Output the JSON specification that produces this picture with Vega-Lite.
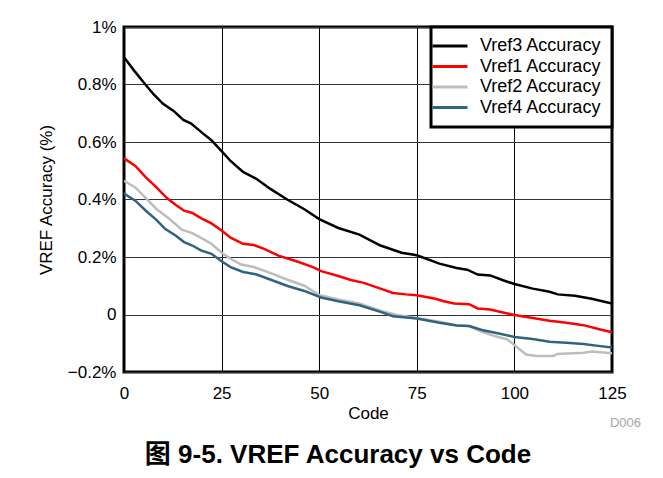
{
  "$schema": "https://vega.github.io/schema/vega-lite/v6.json",
  "width": 488,
  "height": 345,
  "autosize": {"type": "none"},
  "padding": {"left": 124, "top": 27, "right": 51, "bottom": 106},
  "background": "white",
  "config": {
    "font": "Liberation Sans",
    "view": {"stroke": "black", "strokeWidth": 3},
    "legend": {"strokeColor": "black", "strokeWidth": 3, "fillColor": "white"}
  },
  "title": {
    "text": "图 9-5. VREF Accuracy vs Code",
    "orient": "bottom",
    "anchor": "middle",
    "frame": "group",
    "font": "Liberation Sans, Noto Sans CJK SC",
    "fontSize": 26,
    "fontWeight": "bold",
    "color": "black",
    "dx": -30,
    "offset": 12
  },
  "layer": [
    {
      "data": {
        "values": [
          {"s": "Vref3 Accuracy", "code": 0, "acc": 0.895},
          {"s": "Vref3 Accuracy", "code": 2.5, "acc": 0.85},
          {"s": "Vref3 Accuracy", "code": 5.1, "acc": 0.806},
          {"s": "Vref3 Accuracy", "code": 7.5, "acc": 0.767},
          {"s": "Vref3 Accuracy", "code": 10, "acc": 0.733},
          {"s": "Vref3 Accuracy", "code": 12.7, "acc": 0.708},
          {"s": "Vref3 Accuracy", "code": 15.2, "acc": 0.677},
          {"s": "Vref3 Accuracy", "code": 17.2, "acc": 0.664},
          {"s": "Vref3 Accuracy", "code": 20.2, "acc": 0.630},
          {"s": "Vref3 Accuracy", "code": 22.4, "acc": 0.606},
          {"s": "Vref3 Accuracy", "code": 25, "acc": 0.568},
          {"s": "Vref3 Accuracy", "code": 27.3, "acc": 0.534},
          {"s": "Vref3 Accuracy", "code": 30.5, "acc": 0.496},
          {"s": "Vref3 Accuracy", "code": 33.8, "acc": 0.473},
          {"s": "Vref3 Accuracy", "code": 37.6, "acc": 0.436},
          {"s": "Vref3 Accuracy", "code": 41.9, "acc": 0.399},
          {"s": "Vref3 Accuracy", "code": 46.2, "acc": 0.366},
          {"s": "Vref3 Accuracy", "code": 50, "acc": 0.332},
          {"s": "Vref3 Accuracy", "code": 54.9, "acc": 0.301},
          {"s": "Vref3 Accuracy", "code": 60.3, "acc": 0.278},
          {"s": "Vref3 Accuracy", "code": 65.7, "acc": 0.240},
          {"s": "Vref3 Accuracy", "code": 71.1, "acc": 0.215},
          {"s": "Vref3 Accuracy", "code": 75, "acc": 0.206},
          {"s": "Vref3 Accuracy", "code": 80.8, "acc": 0.177},
          {"s": "Vref3 Accuracy", "code": 85.2, "acc": 0.162},
          {"s": "Vref3 Accuracy", "code": 87.9, "acc": 0.156},
          {"s": "Vref3 Accuracy", "code": 90.6, "acc": 0.139},
          {"s": "Vref3 Accuracy", "code": 93.8, "acc": 0.136},
          {"s": "Vref3 Accuracy", "code": 97.1, "acc": 0.119},
          {"s": "Vref3 Accuracy", "code": 100, "acc": 0.106},
          {"s": "Vref3 Accuracy", "code": 104.7, "acc": 0.090},
          {"s": "Vref3 Accuracy", "code": 109, "acc": 0.079},
          {"s": "Vref3 Accuracy", "code": 111.1, "acc": 0.070},
          {"s": "Vref3 Accuracy", "code": 115.5, "acc": 0.065},
          {"s": "Vref3 Accuracy", "code": 119.8, "acc": 0.055},
          {"s": "Vref3 Accuracy", "code": 125, "acc": 0.038},

          {"s": "Vref1 Accuracy", "code": 0, "acc": 0.543},
          {"s": "Vref1 Accuracy", "code": 2.9, "acc": 0.517},
          {"s": "Vref1 Accuracy", "code": 5.6, "acc": 0.477},
          {"s": "Vref1 Accuracy", "code": 8.3, "acc": 0.442},
          {"s": "Vref1 Accuracy", "code": 11, "acc": 0.405},
          {"s": "Vref1 Accuracy", "code": 13.2, "acc": 0.382},
          {"s": "Vref1 Accuracy", "code": 15.4, "acc": 0.361},
          {"s": "Vref1 Accuracy", "code": 17.5, "acc": 0.353},
          {"s": "Vref1 Accuracy", "code": 19.7, "acc": 0.335},
          {"s": "Vref1 Accuracy", "code": 22.4, "acc": 0.317},
          {"s": "Vref1 Accuracy", "code": 25, "acc": 0.292},
          {"s": "Vref1 Accuracy", "code": 27.3, "acc": 0.267},
          {"s": "Vref1 Accuracy", "code": 30.5, "acc": 0.246},
          {"s": "Vref1 Accuracy", "code": 33.2, "acc": 0.242},
          {"s": "Vref1 Accuracy", "code": 35.9, "acc": 0.228},
          {"s": "Vref1 Accuracy", "code": 39.7, "acc": 0.204},
          {"s": "Vref1 Accuracy", "code": 44, "acc": 0.186},
          {"s": "Vref1 Accuracy", "code": 48.4, "acc": 0.165},
          {"s": "Vref1 Accuracy", "code": 50.5, "acc": 0.151},
          {"s": "Vref1 Accuracy", "code": 54.9, "acc": 0.134},
          {"s": "Vref1 Accuracy", "code": 58.1, "acc": 0.120},
          {"s": "Vref1 Accuracy", "code": 61.4, "acc": 0.110},
          {"s": "Vref1 Accuracy", "code": 65.7, "acc": 0.090},
          {"s": "Vref1 Accuracy", "code": 68.9, "acc": 0.075},
          {"s": "Vref1 Accuracy", "code": 72.2, "acc": 0.070},
          {"s": "Vref1 Accuracy", "code": 75, "acc": 0.067},
          {"s": "Vref1 Accuracy", "code": 79.8, "acc": 0.055},
          {"s": "Vref1 Accuracy", "code": 81.9, "acc": 0.046},
          {"s": "Vref1 Accuracy", "code": 84.6, "acc": 0.038},
          {"s": "Vref1 Accuracy", "code": 88.4, "acc": 0.036},
          {"s": "Vref1 Accuracy", "code": 90.6, "acc": 0.021},
          {"s": "Vref1 Accuracy", "code": 93.8, "acc": 0.017},
          {"s": "Vref1 Accuracy", "code": 97.1, "acc": 0.007},
          {"s": "Vref1 Accuracy", "code": 100, "acc": -0.002},
          {"s": "Vref1 Accuracy", "code": 104.7, "acc": -0.012},
          {"s": "Vref1 Accuracy", "code": 109, "acc": -0.022},
          {"s": "Vref1 Accuracy", "code": 113.3, "acc": -0.029},
          {"s": "Vref1 Accuracy", "code": 117.7, "acc": -0.037},
          {"s": "Vref1 Accuracy", "code": 122, "acc": -0.052},
          {"s": "Vref1 Accuracy", "code": 125, "acc": -0.062},

          {"s": "Vref2 Accuracy", "code": 0, "acc": 0.465},
          {"s": "Vref2 Accuracy", "code": 2.9, "acc": 0.442},
          {"s": "Vref2 Accuracy", "code": 5.6, "acc": 0.405},
          {"s": "Vref2 Accuracy", "code": 8.3, "acc": 0.367},
          {"s": "Vref2 Accuracy", "code": 11.6, "acc": 0.333},
          {"s": "Vref2 Accuracy", "code": 14.8, "acc": 0.295},
          {"s": "Vref2 Accuracy", "code": 17.5, "acc": 0.283},
          {"s": "Vref2 Accuracy", "code": 20.2, "acc": 0.263},
          {"s": "Vref2 Accuracy", "code": 22.4, "acc": 0.246},
          {"s": "Vref2 Accuracy", "code": 25, "acc": 0.215},
          {"s": "Vref2 Accuracy", "code": 27.3, "acc": 0.194},
          {"s": "Vref2 Accuracy", "code": 30, "acc": 0.174},
          {"s": "Vref2 Accuracy", "code": 33.2, "acc": 0.165},
          {"s": "Vref2 Accuracy", "code": 37.6, "acc": 0.144},
          {"s": "Vref2 Accuracy", "code": 41.9, "acc": 0.121},
          {"s": "Vref2 Accuracy", "code": 46.2, "acc": 0.100},
          {"s": "Vref2 Accuracy", "code": 50, "acc": 0.068},
          {"s": "Vref2 Accuracy", "code": 54.9, "acc": 0.052},
          {"s": "Vref2 Accuracy", "code": 60.3, "acc": 0.038},
          {"s": "Vref2 Accuracy", "code": 65.7, "acc": 0.013},
          {"s": "Vref2 Accuracy", "code": 70, "acc": -0.002},
          {"s": "Vref2 Accuracy", "code": 75, "acc": -0.012},
          {"s": "Vref2 Accuracy", "code": 80.8, "acc": -0.025},
          {"s": "Vref2 Accuracy", "code": 85.2, "acc": -0.037},
          {"s": "Vref2 Accuracy", "code": 88.4, "acc": -0.040},
          {"s": "Vref2 Accuracy", "code": 91.7, "acc": -0.060},
          {"s": "Vref2 Accuracy", "code": 94.9, "acc": -0.075},
          {"s": "Vref2 Accuracy", "code": 98.2, "acc": -0.087},
          {"s": "Vref2 Accuracy", "code": 100, "acc": -0.106},
          {"s": "Vref2 Accuracy", "code": 103, "acc": -0.139},
          {"s": "Vref2 Accuracy", "code": 105.7, "acc": -0.144},
          {"s": "Vref2 Accuracy", "code": 110, "acc": -0.144},
          {"s": "Vref2 Accuracy", "code": 111, "acc": -0.137},
          {"s": "Vref2 Accuracy", "code": 117.7, "acc": -0.133},
          {"s": "Vref2 Accuracy", "code": 119.8, "acc": -0.129},
          {"s": "Vref2 Accuracy", "code": 125, "acc": -0.135},

          {"s": "Vref4 Accuracy", "code": 0, "acc": 0.421},
          {"s": "Vref4 Accuracy", "code": 2.9, "acc": 0.396},
          {"s": "Vref4 Accuracy", "code": 5.6, "acc": 0.361},
          {"s": "Vref4 Accuracy", "code": 8.3, "acc": 0.329},
          {"s": "Vref4 Accuracy", "code": 10.5, "acc": 0.298},
          {"s": "Vref4 Accuracy", "code": 13.2, "acc": 0.275},
          {"s": "Vref4 Accuracy", "code": 15.4, "acc": 0.252},
          {"s": "Vref4 Accuracy", "code": 17.5, "acc": 0.240},
          {"s": "Vref4 Accuracy", "code": 19.7, "acc": 0.223},
          {"s": "Vref4 Accuracy", "code": 22.4, "acc": 0.211},
          {"s": "Vref4 Accuracy", "code": 25, "acc": 0.185},
          {"s": "Vref4 Accuracy", "code": 27.3, "acc": 0.165},
          {"s": "Vref4 Accuracy", "code": 30.5, "acc": 0.148},
          {"s": "Vref4 Accuracy", "code": 33.8, "acc": 0.140},
          {"s": "Vref4 Accuracy", "code": 37.6, "acc": 0.121},
          {"s": "Vref4 Accuracy", "code": 41.9, "acc": 0.099},
          {"s": "Vref4 Accuracy", "code": 46.2, "acc": 0.082},
          {"s": "Vref4 Accuracy", "code": 50.5, "acc": 0.059},
          {"s": "Vref4 Accuracy", "code": 54.9, "acc": 0.046},
          {"s": "Vref4 Accuracy", "code": 60.3, "acc": 0.032},
          {"s": "Vref4 Accuracy", "code": 65.7, "acc": 0.009},
          {"s": "Vref4 Accuracy", "code": 68.9, "acc": -0.006},
          {"s": "Vref4 Accuracy", "code": 75, "acc": -0.014},
          {"s": "Vref4 Accuracy", "code": 80.8, "acc": -0.029},
          {"s": "Vref4 Accuracy", "code": 85.2, "acc": -0.038},
          {"s": "Vref4 Accuracy", "code": 88.4, "acc": -0.040},
          {"s": "Vref4 Accuracy", "code": 91.7, "acc": -0.054},
          {"s": "Vref4 Accuracy", "code": 96, "acc": -0.066},
          {"s": "Vref4 Accuracy", "code": 100, "acc": -0.078},
          {"s": "Vref4 Accuracy", "code": 104.7, "acc": -0.085},
          {"s": "Vref4 Accuracy", "code": 109, "acc": -0.095},
          {"s": "Vref4 Accuracy", "code": 113.3, "acc": -0.098},
          {"s": "Vref4 Accuracy", "code": 117.7, "acc": -0.103},
          {"s": "Vref4 Accuracy", "code": 122, "acc": -0.110},
          {"s": "Vref4 Accuracy", "code": 125, "acc": -0.115}
        ]
      },
      "mark": {"type": "line", "strokeWidth": 2.5, "clip": true},
      "encoding": {
        "x": {
          "field": "code",
          "type": "quantitative",
          "scale": {"domain": [0, 125], "nice": false, "zero": false},
          "axis": {
            "values": [0, 25, 50, 75, 100, 125],
            "title": "Code",
            "labelFontSize": 17,
            "labelColor": "black",
            "labelFlush": false,
            "labelPadding": 13,
            "ticks": false,
            "domain": false,
            "grid": true,
            "gridColor": "black",
            "gridWidth": 1,
            "gridOpacity": 1,
            "titleFontSize": 17,
            "titleFontWeight": "normal",
            "titleColor": "black",
            "titlePadding": 4
          }
        },
        "y": {
          "field": "acc",
          "type": "quantitative",
          "scale": {"domain": [-0.2, 1], "nice": false, "zero": false},
          "axis": {
            "values": [-0.2, 0, 0.2, 0.4, 0.6, 0.8, 1],
            "labelExpr": "datum.value == 0 ? '0' : (datum.value == 1 ? '1%' : format(datum.value, '.1f') + '%')",
            "title": "VREF Accuracy (%)",
            "labelFontSize": 17,
            "labelColor": "black",
            "labelFlush": false,
            "labelPadding": 8,
            "ticks": false,
            "domain": false,
            "grid": true,
            "gridColor": "#333333",
            "gridWidth": 1,
            "gridOpacity": 1,
            "titleFontSize": 17,
            "titleFontWeight": "normal",
            "titleColor": "black",
            "titlePadding": 12
          }
        },
        "color": {
          "field": "s",
          "type": "nominal",
          "sort": ["Vref3 Accuracy", "Vref1 Accuracy", "Vref2 Accuracy", "Vref4 Accuracy"],
          "scale": {
            "domain": ["Vref3 Accuracy", "Vref1 Accuracy", "Vref2 Accuracy", "Vref4 Accuracy"],
            "range": ["#000000", "#ff0000", "#bdbdbd", "#2f6480"]
          },
          "legend": {
            "title": null,
            "orient": "top-right",
            "offset": 0,
            "padding": 10,
            "symbolType": "M-3.5,0H3.5",
            "symbolSize": 100,
            "symbolStrokeWidth": 3,
            "labelFontSize": 18,
            "labelColor": "black",
            "labelOffset": 21,
            "rowPadding": 2.5
          }
        }
      }
    },
    {
      "data": {"values": [{"label": "D006"}]},
      "mark": {
        "type": "text",
        "align": "right",
        "baseline": "middle",
        "fontSize": 13,
        "color": "#a6a6a6",
        "dx": 29,
        "dy": 51
      },
      "encoding": {
        "x": {"datum": 125},
        "y": {"datum": -0.2},
        "text": {"field": "label"}
      }
    }
  ]
}
